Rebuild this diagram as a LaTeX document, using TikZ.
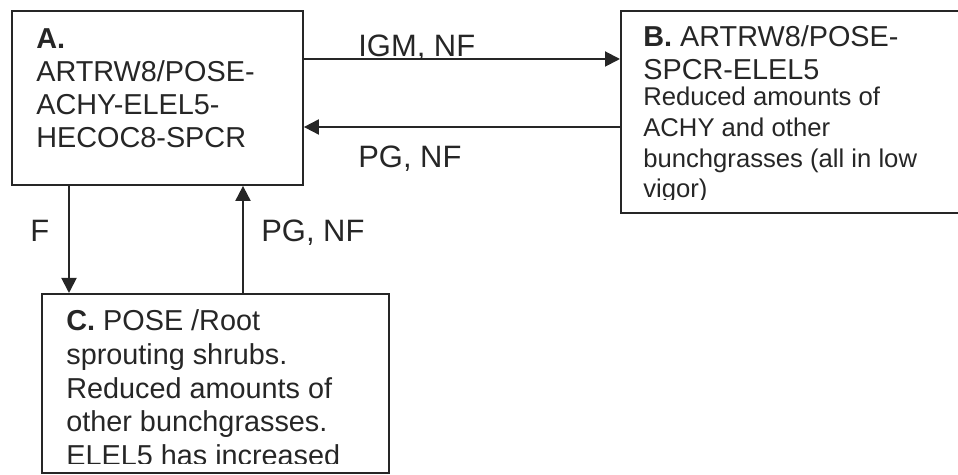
\documentclass[tikz,border=0pt]{standalone}
\usepackage{fontspec}
\setmainfont{Liberation Sans}
\usetikzlibrary{arrows.meta,calc}

\definecolor{inkgray}{HTML}{262626}

\begin{document}
\begin{tikzpicture}[
    x=0.02cm, y=-0.02cm,
    statebox/.style={rectangle, draw=inkgray, line width=1.1pt, inner sep=0pt, anchor=north west},
    statetext/.style={anchor=base west, align=left, inner sep=0pt, text=inkgray,
        font=\fontsize{16.4}{18.8}\selectfont},
    smalltext/.style={statetext, font=\fontsize{14.6}{17.6}\selectfont},
    translabel/.style={anchor=base west, inner sep=0pt, text=inkgray,
        font=\fontsize{17.6}{20}\selectfont},
    arrow/.style={draw=inkgray, line width=1.1pt, -{Triangle[length=0.3cm,width=0.3cm]}}
]
    \useasboundingbox (0,0) rectangle (958,475);
    \clip (0,0) rectangle (958,475);

    % states
    \node[statebox, minimum width=5.82cm, minimum height=3.48cm] (stateA) at (11,10) {};
    \node[statebox, minimum width=7.1cm, minimum height=4.04cm] (stateB) at (620,10) {};
    \node[statebox, minimum width=6.94cm, minimum height=3.58cm] (stateC) at (41,293) {};

    % anchored at the baseline of the last line
    \node[statetext] (textA) at (36,148) {\textbf{A.}\\ARTRW8/POSE-\\ACHY-ELEL5-\\HECOC8-SPCR};

    \begin{scope}
        \clip (620,10) rectangle (958,200);
        \node[statetext] (textB) at (643,80) {\textbf{B.} ARTRW8/POSE-\\SPCR-ELEL5};
        \node[smalltext] (noteB) at (643,198) {Reduced amounts of\\ACHY and other\\bunchgrasses (all in low\\vigor)};
    \end{scope}

    \begin{scope}
        \clip (41,293) rectangle (388,464);
        \node[statetext, font=\fontsize{16.4}{19.35}\selectfont] (textC) at (66,466)
            {\textbf{C.} POSE /Root\\sprouting shrubs.\\Reduced amounts of\\other bunchgrasses.\\ELEL5 has increased};
    \end{scope}

    % transitions
    \draw[arrow] ($(stateA.north east)+(0,49)$) -- ($(stateB.north west)+(0,49)$);
    \draw[arrow] ($(stateB.north west)+(0,117)$) -- ($(stateA.north east)+(0,117)$);
    \draw[arrow] ($(stateA.south west)+(58,0)$) -- ($(stateC.north west)+(28,0)$);
    \draw[arrow] ($(stateC.north west)+(202,0)$) -- ($(stateA.south west)+(232,0)$);

    \node[translabel] (igmAB) at (358,57) {IGM, NF};
    \node[translabel] (pgBA) at (358,168) {PG, NF};
    \node[translabel] (fAC) at (30,242) {F};
    \node[translabel] (pgCA) at (261,242) {PG, NF};
\end{tikzpicture}
\end{document}
